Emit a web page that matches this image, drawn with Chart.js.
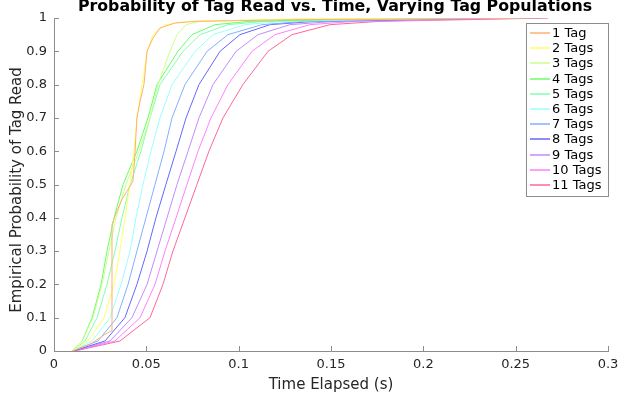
<!DOCTYPE html>
<html>
<head>
<meta charset="utf-8">
<script src="https://cdn.jsdelivr.net/npm/chart.js@4.4.1/dist/chart.umd.min.js"></script>
<style>
  html, body { margin: 0; padding: 0; background: #fff; }
  canvas { display: block; }
</style>
</head>
<body>
<canvas id="chart" width="618" height="400"></canvas>
<script>
const titleText = "Probability of Tag Read vs. Time, Varying Tag Populations";
const xTitle = "Time Elapsed (s)";
const yTitle = "Empirical Probability of Tag Read";
const xTickLabels = ["0", "0.05", "0.1", "0.15", "0.2", "0.25", "0.3"];
const yTickLabels = ["0", "0.1", "0.2", "0.3", "0.4", "0.5", "0.6", "0.7", "0.8", "0.9", "1"];

const seriesLabels = ["1 Tag", "2 Tags", "3 Tags", "4 Tags", "5 Tags", "6 Tags",
  "7 Tags", "8 Tags", "9 Tags", "10 Tags", "11 Tags"];
const seriesColors = ["#ffb070", "#ffff66", "#ccff88", "#66ff66", "#80ffb0", "#99ffff",
  "#80b0ff", "#6666ff", "#c08cff", "#ff80ff", "#ff6699"];

//1 tag has its own shape (big jump near 0.031 s)
const tag1Time = [0.0097, 0.0195, 0.0276, 0.0309, 0.0314, 0.0341, 0.0363, 0.0395, 0.0428,
  0.0439, 0.0449, 0.0466, 0.0487, 0.0504, 0.0536, 0.0574, 0.0655, 0.0764, 0.1332, 0.2675];
const tag1Prob = [0, 0.02, 0.05, 0.06, 0.38, 0.42, 0.45, 0.48, 0.51,
  0.6, 0.7, 0.75, 0.8, 0.9, 0.94, 0.97, 0.985, 0.99, 0.995, 1];

//probability levels shared by the other populations
const probLevels = [0, 0.03, 0.1, 0.2, 0.3, 0.4, 0.5, 0.6, 0.7, 0.8, 0.9, 0.95, 0.98, 0.99, 0.997, 1];
const tag2Time = [0.0097, 0.0184, 0.0271, 0.0325, 0.0357, 0.0384, 0.0412, 0.0433, 0.0449, 0.0477, 0.0504, 0.0536, 0.0601, 0.0736, 0.1332, 0.2199];
const tag3Time = [0.0097, 0.0152, 0.0211, 0.0260, 0.0298, 0.0336, 0.0390, 0.0460, 0.0520, 0.0563, 0.0628, 0.0666, 0.0715, 0.0791, 0.1332, 0.2144];
const tag4Time = [0.0097, 0.0152, 0.0206, 0.0255, 0.0287, 0.0325, 0.0374, 0.0449, 0.0509, 0.0558, 0.0671, 0.0747, 0.0872, 0.1061, 0.1603, 0.2307];
const tag5Time = [0.0097, 0.0168, 0.0233, 0.0287, 0.0330, 0.0368, 0.0412, 0.0471, 0.0520, 0.0574, 0.0699, 0.0791, 0.0942, 0.1143, 0.1711, 0.2415];
const tag6Time = [0.0097, 0.0206, 0.0303, 0.0363, 0.0412, 0.0444, 0.0482, 0.0525, 0.0574, 0.0639, 0.0764, 0.0861, 0.1034, 0.1251, 0.1874, 0.2523];
const tag7Time = [0.0097, 0.0238, 0.0341, 0.0401, 0.0449, 0.0498, 0.0547, 0.0596, 0.0639, 0.0709, 0.0829, 0.0942, 0.1126, 0.1359, 0.1982, 0.2578];
const tag8Time = [0.0103, 0.0276, 0.0384, 0.0449, 0.0504, 0.0552, 0.0606, 0.0661, 0.0715, 0.0785, 0.0899, 0.1007, 0.1170, 0.1413, 0.2090, 0.2632];
const tag9Time = [0.0103, 0.0303, 0.0422, 0.0504, 0.0558, 0.0612, 0.0666, 0.0726, 0.0785, 0.0861, 0.0986, 0.1105, 0.1278, 0.1522, 0.2199, 0.2659];
const tag10Time = [0.0108, 0.0330, 0.0466, 0.0547, 0.0601, 0.0661, 0.0720, 0.0780, 0.0850, 0.0942, 0.1072, 0.1197, 0.1386, 0.1630, 0.2307, 0.2675];
const tag11Time = [0.0114, 0.0357, 0.0520, 0.0590, 0.0644, 0.0709, 0.0774, 0.0839, 0.0915, 0.1023, 0.1159, 0.1289, 0.1495, 0.1765, 0.2415, 0.2675];

const seriesTimes = [tag1Time, tag2Time, tag3Time, tag4Time, tag5Time, tag6Time,
  tag7Time, tag8Time, tag9Time, tag10Time, tag11Time];
const seriesProbs = [tag1Prob, probLevels, probLevels, probLevels, probLevels, probLevels,
  probLevels, probLevels, probLevels, probLevels, probLevels];

const FONT = "'DejaVu Sans', sans-serif";
const AXIS_COLOR = "#8c8c8c";

//title and y label drawn by hand so they sit like the original
const extraText = {
  id: "extraText",
  afterDraw(chart) {
    const { ctx } = chart;
    ctx.save();
    ctx.font = "bold 15.8px " + FONT;
    ctx.fillStyle = "#000";
    ctx.textAlign = "center";
    ctx.textBaseline = "alphabetic";
    ctx.fillText(titleText, 335, 11);
    ctx.font = "15px " + FONT;
    ctx.fillStyle = "#262626";
    ctx.textBaseline = "middle";
    ctx.translate(17, 190);
    ctx.rotate(-Math.PI / 2);
    ctx.fillText(yTitle, 0, 0);
    ctx.restore();
  },
};

//MATLAB style ticks pointing into the plot
const innerTicks = {
  id: "innerTicks",
  afterDraw(chart) {
    const { ctx, chartArea, scales } = chart;
    ctx.save();
    ctx.strokeStyle = AXIS_COLOR;
    ctx.lineWidth = 1;
    ctx.beginPath();
    scales.x.ticks.forEach((t) => {
      const px = Math.round(scales.x.getPixelForValue(t.value)) + 0.5;
      ctx.moveTo(px, chartArea.bottom);
      ctx.lineTo(px, chartArea.bottom - 5);
    });
    scales.y.ticks.forEach((t) => {
      const py = Math.round(scales.y.getPixelForValue(t.value)) + 0.5;
      ctx.moveTo(chartArea.left, py);
      ctx.lineTo(chartArea.left + 5, py);
    });
    ctx.stroke();
    ctx.restore();
  },
};

//legend box in the top right corner of the axes
const boxLegend = {
  id: "boxLegend",
  afterDraw(chart) {
    const { ctx } = chart;
    const x0 = 526.5, y0 = 23.5, w = 82, h = 173, rowH = 15.2, firstRow = 33;
    ctx.save();
    ctx.fillStyle = "#fff";
    ctx.fillRect(x0, y0, w, h);
    ctx.strokeStyle = AXIS_COLOR;
    ctx.lineWidth = 1;
    ctx.strokeRect(x0, y0, w, h);
    ctx.font = "13px " + FONT;
    ctx.textBaseline = "middle";
    ctx.textAlign = "left";
    chart.data.datasets.forEach((ds, i) => {
      const y = Math.round(firstRow + i * rowH);
      ctx.strokeStyle = ds.borderColor;
      ctx.lineWidth = 1.5;
      ctx.beginPath();
      ctx.moveTo(530, y);
      ctx.lineTo(550, y);
      ctx.stroke();
      ctx.fillStyle = "#000";
      ctx.fillText(ds.label, 552, y + 0.5);
    });
    ctx.restore();
  },
};

const datasets = seriesLabels.map((label, i) => ({
  label: label,
  data: seriesTimes[i].map((t, j) => ({ x: t, y: seriesProbs[i][j] })),
  borderColor: seriesColors[i],
  borderWidth: 1,
  pointRadius: 0,
  tension: 0,
  fill: false,
}));

new Chart(document.getElementById("chart"), {
  type: "line",
  data: { datasets: datasets },
  plugins: [extraText, innerTicks, boxLegend],
  options: {
    responsive: false,
    animation: false,
    layout: { padding: { left: 0, top: 18, right: 10, bottom: 0 } },
    plugins: {
      legend: { display: false },
      tooltip: { enabled: false },
      title: { display: false },
    },
    scales: {
      x: {
        type: "linear",
        min: 0,
        max: 0.3,
        afterFit: (scale) => {
          scale.height = 49;
          scale.paddingLeft = 0;
          scale.paddingRight = 0;
        },
        afterBuildTicks: (scale) => {
          scale.ticks = xTickLabels.map((l) => ({ value: parseFloat(l) }));
        },
        ticks: {
          callback: (v, i) => xTickLabels[i],
          color: "#262626",
          font: { family: FONT, size: 13 },
          padding: 6,
          maxRotation: 0,
          autoSkip: false,
        },
        grid: { display: false, drawTicks: false },
        border: { display: true, color: AXIS_COLOR, width: 1 },
        title: {
          display: true,
          text: xTitle,
          color: "#262626",
          font: { family: FONT, size: 15 },
          padding: { top: 0, bottom: 6 },
        },
      },
      y: {
        type: "linear",
        min: 0,
        max: 1,
        afterFit: (scale) => {
          scale.width = 54;
          scale.paddingTop = 0;
          scale.paddingBottom = 0;
        },
        afterBuildTicks: (scale) => {
          scale.ticks = yTickLabels.map((l) => ({ value: parseFloat(l) }));
        },
        ticks: {
          callback: (v, i) => yTickLabels[i],
          color: "#262626",
          font: { family: FONT, size: 13 },
          padding: 7,
          autoSkip: false,
        },
        grid: { display: false, drawTicks: false },
        border: { display: true, color: AXIS_COLOR, width: 1 },
      },
    },
  },
});
</script>
</body>
</html>
